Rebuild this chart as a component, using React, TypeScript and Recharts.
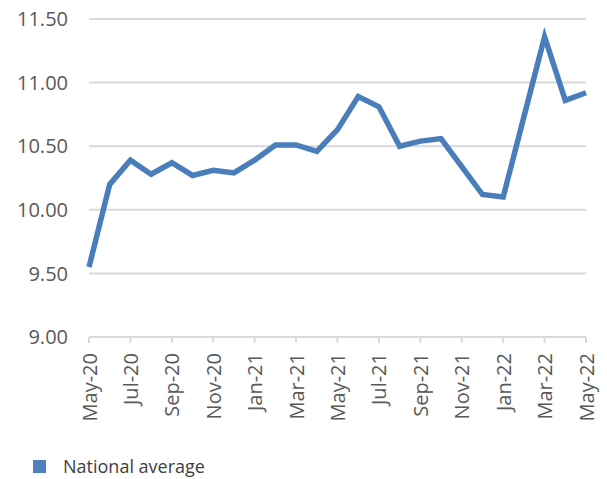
import { LineChart, Line, XAxis, YAxis, CartesianGrid, Legend } from "recharts";

// 월별 라벨 (May-20 ~ May-22)
const months = [
  "May-20", "Jun-20", "Jul-20", "Aug-20", "Sep-20", "Oct-20", "Nov-20", "Dec-20",
  "Jan-21", "Feb-21", "Mar-21", "Apr-21", "May-21", "Jun-21", "Jul-21", "Aug-21",
  "Sep-21", "Oct-21", "Nov-21", "Dec-21", "Jan-22", "Feb-22", "Mar-22", "Apr-22",
  "May-22",
];

// 전국 평균 값
const nationalAverage = [
  9.55, 10.2, 10.39, 10.28, 10.37, 10.27, 10.31, 10.29,
  10.39, 10.51, 10.51, 10.46, 10.63, 10.89, 10.81, 10.5,
  10.54, 10.56, 10.34, 10.12, 10.1, 10.73, 11.36, 10.86,
  10.92,
];

const yTicks = [9, 9.5, 10, 10.5, 11, 11.5];

const seriesName = "National average";

const data = months.map((month, i) => ({ month, value: nationalAverage[i] }));

const LINE_COLOR = "#4a7ebb";
const TEXT_COLOR = "#595959";
const FONT = "'Open Sans', sans-serif";

// 세로로 회전된 x축 라벨
const RotatedTick = (props: any) => {
  const { x, y, payload } = props;
  return (
    <g transform={`translate(${x},${y})`}>
      <text
        transform="rotate(-90)"
        textAnchor="end"
        dominantBaseline="central"
        fill={TEXT_COLOR}
        fontSize={20}
        fontFamily={FONT}
      >
        {payload.value}
      </text>
    </g>
  );
};

const LegendBox = () => (
  <div style={{ display: "flex", alignItems: "center", height: 26, fontFamily: FONT }}>
    <span style={{ width: 13, height: 13, background: "#4f81bd", display: "inline-block" }} />
    <span style={{ marginLeft: 17, fontSize: 18, color: "#404040" }}>{seriesName}</span>
  </div>
);

export default function App() {
  return (
    <div style={{ position: "absolute", left: 0, top: 0, background: "#fff" }}>
      <LineChart
        width={607}
        height={479}
        data={data}
        margin={{ top: 19, right: 21, bottom: 0, left: 0 }}
        style={{ fontFamily: FONT }}
      >
        <CartesianGrid vertical={false} stroke="#d9d9d9" strokeWidth={2} />
        <XAxis
          dataKey="month"
          interval={1}
          height={116}
          tickSize={6}
          tickMargin={10}
          stroke="#d9d9d9"
          strokeWidth={2}
          tick={<RotatedTick />}
        />
        <YAxis
          domain={[9, 11.5]}
          ticks={yTicks}
          width={89}
          axisLine={false}
          tickLine={false}
          tickSize={0}
          tickMargin={21}
          tickFormatter={(v: number) => v.toFixed(2)}
          tick={{ fill: TEXT_COLOR, fontSize: 20, fontFamily: FONT }}
        />
        <Legend
          verticalAlign="bottom"
          align="left"
          content={<LegendBox />}
          wrapperStyle={{ left: 33, bottom: 0, width: "auto" }}
        />
        <Line
          type="linear"
          dataKey="value"
          name={seriesName}
          stroke={LINE_COLOR}
          strokeWidth={5.5}
          dot={false}
          isAnimationActive={false}
        />
      </LineChart>
    </div>
  );
}
